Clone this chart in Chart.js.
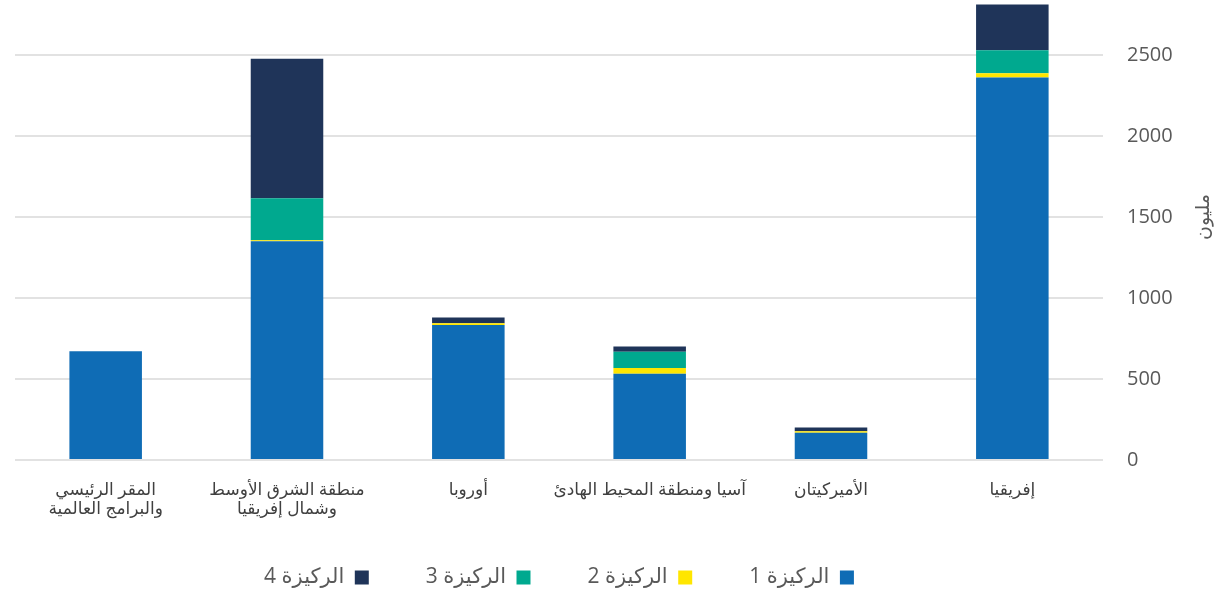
<!DOCTYPE html>
<html lang="ar">
<head>
<meta charset="utf-8">
<title>الركائز حسب المنطقة</title>
<script src="https://cdn.jsdelivr.net/npm/chart.js@4.4.1/dist/chart.umd.min.js"></script>
<style>
    html, body { margin: 0; padding: 0; background: #ffffff; }
    #chart-wrap { position: relative; width: 1214px; height: 595px; }
</style>
</head>
<body>
<div id="chart-wrap"><canvas id="pillars-chart"></canvas></div>
<script>
// --- DATA ---
const regions = [
    ['المقر الرئيسي', 'والبرامج العالمية'],
    ['منطقة الشرق الأوسط', 'وشمال إفريقيا'],
    'أوروبا',
    'آسيا ومنطقة المحيط الهادئ',
    'الأميركيتان',
    'إفريقيا'
];
const pillarNames = ['الركيزة 1', 'الركيزة 2', 'الركيزة 3', 'الركيزة 4'];
const pillar1 = [672, 1351, 833, 533, 168, 2361];
const pillar2 = [0, 6, 12, 35, 10, 27];
const pillar3 = [0, 259, 0, 101, 0, 142];
const pillar4 = [0, 862, 35, 31, 23, 282];
const yTicks = [0, 500, 1000, 1500, 2000, 2500];
const yTitle = 'مليون';

document.addEventListener('DOMContentLoaded', function() {

    // --- CONFIG ---
    const colors = ['#0f6cb5', '#ffe600', '#00a98f', '#1f3459'];
    const textGray = '#595959';
    const legendGap = 57;      // horizontal space between legend items
    const legendHeight = 38;
    Chart.defaults.font.family = "'Open Sans', 'DejaVu Sans', sans-serif";
    Chart.defaults.color = textGray;

    // rotated axis title on the far right (reads bottom to top)
    const sideTitle = {
        id: 'sideTitle',
        afterDraw(chart) {
            const { ctx, chartArea } = chart;
            ctx.save();
            ctx.translate(1204, (chartArea.top + chartArea.bottom) / 2 - 13);
            ctx.rotate(-Math.PI / 2);
            ctx.font = "19px 'DejaVu Sans', sans-serif";
            ctx.fillStyle = textGray;
            ctx.textAlign = 'center';
            ctx.textBaseline = 'middle';
            ctx.fillText(yTitle, 0, 0);
            ctx.restore();
        }
    };

    // legend padding is also used vertically; keep the box short and
    // pull the drawing up so only the horizontal gap stays wide
    const compactLegend = {
        id: 'compactLegend',
        afterInit(chart) {
            const legend = chart.legend;
            const fit = legend.fit;
            const draw = legend.draw;
            legend.fit = function() {
                fit.call(this);
                this.height = legendHeight;
            };
            legend.draw = function() {
                const top = this.top;
                this.top = top - (legendGap - 10);
                draw.call(this);
                this.top = top;
            };
        }
    };

    const datasets = [pillar1, pillar2, pillar3, pillar4].map((values, i) => ({
        label: pillarNames[i],
        data: values,
        backgroundColor: colors[i],
        borderWidth: 0,
        categoryPercentage: 1,
        barPercentage: 0.4
    }));

    const ctx = document.getElementById('pillars-chart').getContext('2d');
    new Chart(ctx, {
        type: 'bar',
        data: { labels: regions, datasets },
        options: {
            responsive: true,
            maintainAspectRatio: false,
            animation: false,
            layout: { padding: { left: 15, right: 0, top: 0, bottom: 0 } },
            plugins: {
                tooltip: { enabled: false },
                legend: {
                    position: 'bottom',
                    fullSize: false,
                    rtl: true,
                    textDirection: 'rtl',
                    labels: {
                        boxWidth: 14,
                        boxHeight: 14,
                        padding: legendGap,
                        color: textGray,
                        font: { size: 21 }
                    }
                }
            },
            scales: {
                x: {
                    stacked: true,
                    grid: { display: false, drawTicks: false },
                    border: { display: false },
                    ticks: {
                        color: '#404040',
                        font: { size: 17, lineHeight: 1.15 },
                        padding: 20,
                        maxRotation: 0,
                        autoSkip: false
                    },
                    afterFit(scale) { scale.height = 595 - 460 - legendHeight; }
                },
                y: {
                    stacked: true,
                    position: 'right',
                    min: 0,
                    max: 2840,
                    grid: { color: '#e2e2e2', lineWidth: 2, drawTicks: false },
                    border: { display: false },
                    ticks: {
                        stepSize: 500,
                        padding: 24,
                        color: textGray,
                        font: { size: 20 },
                        callback: (value) => String(value)
                    },
                    afterBuildTicks(scale) {
                        scale.ticks = yTicks.map(v => ({ value: v }));
                    },
                    afterFit(scale) {
                        scale.width = 111;
                        scale.paddingTop = 0;
                        scale.paddingBottom = 0;
                    }
                }
            }
        },
        plugins: [sideTitle, compactLegend]
    });
});
</script>
</body>
</html>
